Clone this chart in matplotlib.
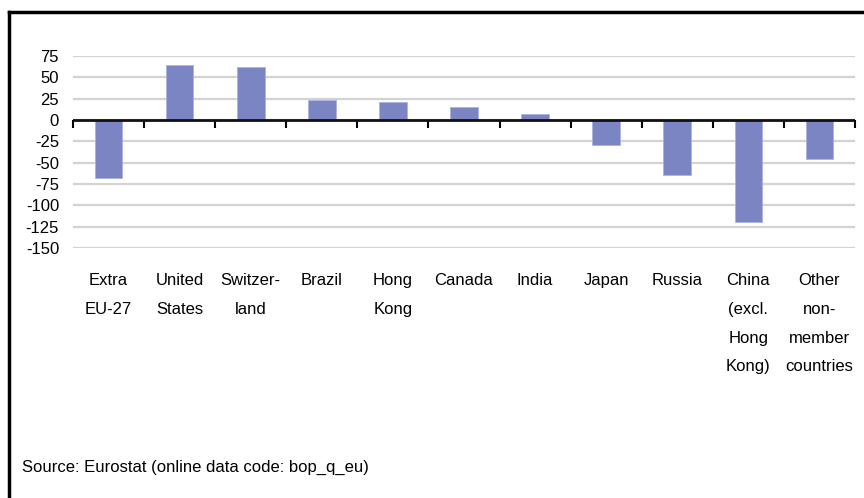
import matplotlib
matplotlib.use('Agg')
import matplotlib.pyplot as plt
import numpy as np

plt.rcParams['font.family'] = ['Liberation Sans', 'DejaVu Sans']
plt.rcParams['axes.unicode_minus'] = False

# Current account balance by partner (EUR bn)
partners = ['Extra\nEU-27', 'United\nStates', 'Switzer-\nland', 'Brazil', 'Hong\nKong',
            'Canada', 'India', 'Japan', 'Russia', 'China\n(excl.\nHong\nKong)',
            'Other\nnon-\nmember\ncountries']
balance = [-68, 65, 62, 24, 21, 15, 7, -29, -65, -120, -46]
yticks = [75, 50, 25, 0, -25, -50, -75, -100, -125, -150]
source = 'Source: Eurostat (online data code: bop_q_eu)'

fig = plt.figure(figsize=(8.64, 4.98), dpi=100)
ax = fig.add_axes([73/864, 1-248/498, (855-73)/864, (248-56)/498])

x = np.arange(len(partners))
ax.bar(x, balance, width=0.39, color='#7b85c3', edgecolor='#aab2e0', linewidth=0.6, zorder=3)
ax.axhline(0, color='#111111', linewidth=2, zorder=4)

ax.set_xlim(-0.5, len(partners)-0.5)
ax.set_ylim(min(yticks), max(yticks))
ax.set_yticks(yticks)
ax.yaxis.grid(True, color='#d3d3d3', linewidth=1.6, zorder=0)
ax.tick_params(axis='y', length=0, pad=10, labelsize=12)
ax.set_xticks(x)
ax.set_xticklabels(partners, linespacing=2.15, fontsize=12, va='top')
ax.tick_params(axis='x', length=0, pad=18)
for s in ax.spines.values():
    s.set_visible(False)

# tick marks between categories, hanging below the zero line
y0, y1 = ax.get_ylim()
zax = ax.secondary_xaxis((0 - y0) / (y1 - y0))
zax.set_xticks(np.arange(len(partners)+1) - 0.5)
zax.set_xticklabels([])
zax.tick_params(axis='x', direction='out', length=6, width=1.5, color='black',
                bottom=True, top=False, labelbottom=False, labeltop=False)
for s in zax.spines.values():
    s.set_visible(False)

fig.text(22/864, 1-467/498, source, fontsize=12, va='center', ha='left')

# outer frame
fig.add_artist(plt.Line2D([9/864, 9/864], [0, 1-12/498], color='black', linewidth=2.5))
fig.add_artist(plt.Line2D([9/864, 1], [1-12/498, 1-12/498], color='black', linewidth=2.5))

fig.savefig('out.png', dpi=100)
